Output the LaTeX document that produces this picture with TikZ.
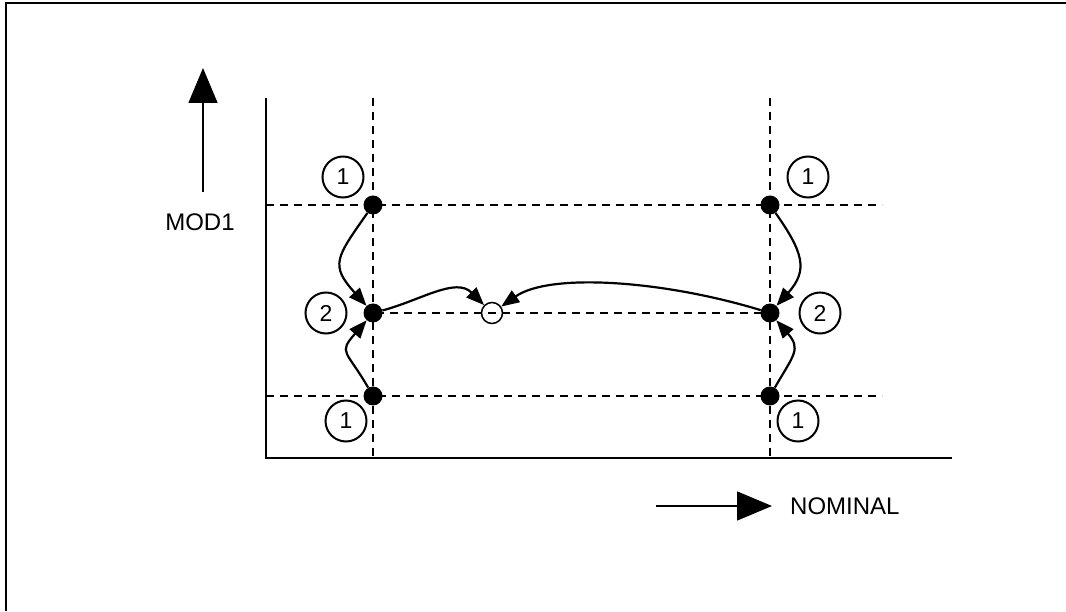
\documentclass[tikz,border=0pt]{standalone}
\usepackage{fontspec}
\setmainfont{Liberation Sans}
\usetikzlibrary{arrows.meta}
\begin{document}
\begin{tikzpicture}[x=1pt,y=1pt,
  frame/.style={line width=2pt},
  axis/.style={line width=2.4pt},
  grid/.style={line width=1.6pt, dash pattern=on 8pt off 6pt},
  dot/.style={circle, fill=black, inner sep=0pt, minimum size=19pt},
  num/.style={circle, draw, line width=2pt, inner sep=0pt, minimum size=41pt, font=\fontsize{23}{23}\selectfont},
  small/.style={circle, draw, line width=1.5pt, inner sep=0pt, minimum size=21pt},
  conn/.style={line width=2.2pt, -{Triangle[length=18pt,width=14pt]}},
  bigarrow/.style={line width=1.5pt, -{Triangle[length=35pt,width=29pt]}},
  lbl/.style={font=\fontsize{24}{24}\selectfont, inner sep=0pt}
]
\useasboundingbox (0,0) rectangle (1066,611);
% frame
\draw[frame] (5.5,0) -- (5.5,608) -- (1066,608);

% grid (dashed)
\draw[grid] (373,513) -- (373,153);
\draw[grid] (770,513) -- (770,153);
\draw[grid] (266,406) -- (882,406);
\draw[grid] (266,215) -- (882,215);
\draw[grid, dash phase=11pt] (373,298) -- (770,298);

% axes
\coordinate (ytop) at (266,513);
\coordinate (orig) at (266,153);
\coordinate (xend) at (952,153);
\draw[axis] (ytop) -- (orig) -- (xend);

% direction arrows and labels
\coordinate (ya0) at (203,419);
\coordinate (ya1) at (203,543);
\draw[bigarrow] (ya0) -- (ya1);
\node[lbl] (mod) at (200,389) {MOD1};

\coordinate (xa0) at (656,105);
\coordinate (xa1) at (772,105);
\draw[bigarrow] (xa0) -- (xa1);
\node[lbl, anchor=west] (nom) at (790,105) {NOMINAL};

% dots
\node[dot] (L1) at (373,406) {};
\node[dot] (L2) at (373,298) {};
\node[dot] (L3) at (373,215) {};
\node[dot] (R1) at (770,406) {};
\node[dot] (R2) at (770,298) {};
\node[dot] (R3) at (770,215) {};

% small target circle
\node[small] (z) at (492,298) {};

% numbered circles
\node[num] (n1) at (343,434) {1};
\node[num] (n2) at (808,434) {1};
\node[num] (n3) at (326,298) {2};
\node[num] (n4) at (820,298) {2};
\node[num] (n5) at (346,190) {1};
\node[num] (n6) at (798,190) {1};

% connectors
\draw[conn] (L1) to[out=235, in=132, distance=55pt] (L2);
\draw[conn] (L3) to[out=120, in=229, distance=44pt] (L2);
\draw[conn] (R1) to[out=305, in=48, distance=48pt] (R2);
\draw[conn] (R3) to[out=60, in=311, distance=38pt] (R2);
\draw[conn] (L2) to[out=15, in=135, distance=40pt] (z);
\draw[conn] (R2) to[out=163, in=35, out distance=100pt, in distance=60pt] (z);
\end{tikzpicture}
\end{document}
